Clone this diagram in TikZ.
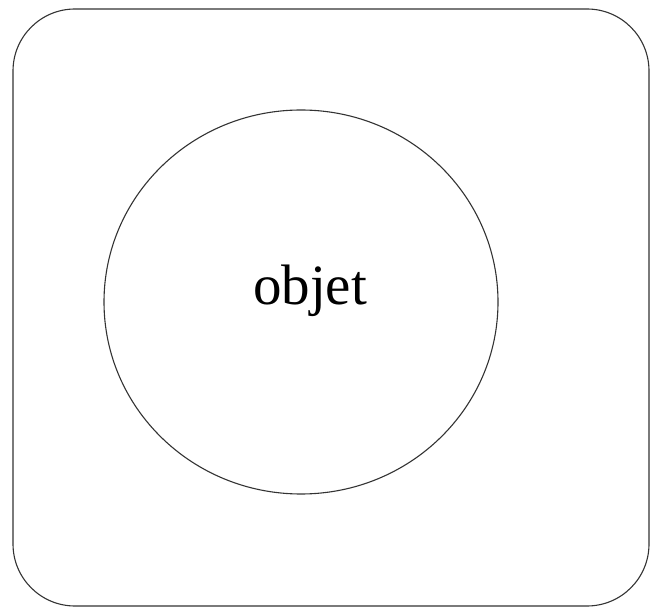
\documentclass[tikz,border=0pt]{standalone}
\usepackage{fontspec}
\setmainfont{Liberation Serif}
\usetikzlibrary{shapes.geometric}
\tikzset{
  outline/.style={draw=black!80, line width=1.1pt},
}
\begin{document}
\begin{tikzpicture}[x=1pt,y=1pt]
\useasboundingbox (0,0) rectangle (653,608);
\draw[outline, rounded corners=62pt] (13,2) rectangle (649,599);
\node[outline, ellipse, minimum width=394pt, minimum height=384pt, inner sep=0pt] (circ) at (301,306) {};
\node[anchor=base, font=\fontsize{57}{60}\selectfont, inner sep=0pt] (lbl) at (310,303) {objet};
\end{tikzpicture}
\end{document}
